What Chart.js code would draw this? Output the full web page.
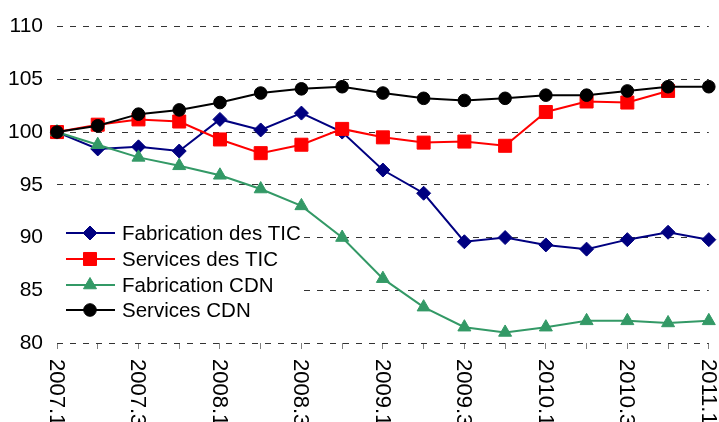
<!DOCTYPE html>
<html>
<head>
<meta charset="utf-8">
<script src="https://cdn.jsdelivr.net/npm/chart.js@4/dist/chart.umd.min.js"></script>
<style>
html,body{margin:0;padding:0;background:#fff;}
#c{display:block;}
</style>
</head>
<body>
<canvas id="c" width="719" height="422"></canvas>
<script>
const quarters = ['2007.1','2007.2','2007.3','2007.4','2008.1','2008.2','2008.3','2008.4','2009.1','2009.2','2009.3','2009.4','2010.1','2010.2','2010.3','2010.4','2011.1'];
const seriesNames = ['Fabrication des TIC','Services des TIC','Fabrication CDN','Services CDN'];
const fabricationTIC = [100, 98.4, 98.6, 98.2, 101.2, 100.2, 101.8, 100.0, 96.4, 94.2, 89.6, 90.0, 89.3, 88.9, 89.8, 90.5, 89.8];
const servicesTIC = [100, 100.7, 101.2, 101.0, 99.3, 98.0, 98.8, 100.3, 99.5, 99.0, 99.1, 98.7, 101.9, 102.9, 102.8, 103.9, null];
const fabricationCDN = [100, 98.8, 97.6, 96.8, 95.9, 94.6, 93.0, 90.0, 86.1, 83.4, 81.5, 81.0, 81.5, 82.1, 82.1, 81.9, 82.1];
const servicesCDN = [100, 100.6, 101.7, 102.1, 102.8, 103.7, 104.1, 104.3, 103.7, 103.2, 103.0, 103.2, 103.5, 103.5, 103.9, 104.3, 104.3];
const yTicks = [80, 85, 90, 95, 100, 105, 110];

const FONT = '"Liberation Sans", Arial, sans-serif';
const styles = [
  {color:'#000080', pointStyle:'rectRot', radius:7},
  {color:'#FF0000', pointStyle:'rect', radius:9.2},
  {color:'#339966', pointStyle:'triangle', radius:7.5},
  {color:'#000000', pointStyle:'circle', radius:6.3}
];
const values = [fabricationTIC, servicesTIC, fabricationCDN, servicesCDN];

const datasets = values.map((v, i) => ({
  label: seriesNames[i],
  data: v,
  borderColor: styles[i].color,
  backgroundColor: styles[i].color,
  pointBackgroundColor: styles[i].color,
  pointBorderColor: styles[i].color,
  pointBorderWidth: 1,
  pointStyle: styles[i].pointStyle,
  pointRadius: styles[i].radius,
  borderWidth: 2,
  tension: 0,
  spanGaps: false,
  clip: false,
  order: 4 - i
}));

const xLabelPlugin = {
  id: 'xLabels',
  afterDraw(chart) {
    const ctx = chart.ctx;
    const xs = chart.scales.x;
    const bottom = chart.chartArea.bottom;
    ctx.save();
    ctx.font = '22px ' + FONT;
    ctx.fillStyle = '#000';
    ctx.textAlign = 'left';
    ctx.textBaseline = 'middle';
    quarters.forEach((q, i) => {
      if (i % 2 !== 0) return;
      const x = xs.getPixelForValue(i);
      ctx.save();
      ctx.translate(x, bottom + 16);
      ctx.rotate(Math.PI / 2);
      ctx.fillText(q, 0, 1);
      ctx.restore();
    });
    ctx.restore();
  }
};

const legendPlugin = {
  id: 'innerLegend',
  afterDraw(chart) {
    const ctx = chart.ctx;
    ctx.save();
    ctx.fillStyle = '#fff';
    ctx.fillRect(57, 221, 247, 102);
    const rows = [233, 259, 285, 310];
    seriesNames.forEach((name, i) => {
      const y = rows[i];
      const s = styles[i];
      ctx.strokeStyle = s.color;
      ctx.lineWidth = 2;
      ctx.beginPath();
      ctx.moveTo(66, y);
      ctx.lineTo(115, y);
      ctx.stroke();
      ctx.fillStyle = s.color;
      ctx.lineWidth = 1;
      Chart.helpers.drawPoint(ctx, {pointStyle: s.pointStyle, radius: s.radius, rotation: 0, borderWidth: 1}, 90, y);
      ctx.fillStyle = '#000';
      ctx.font = '20.5px ' + FONT;
      ctx.textAlign = 'left';
      ctx.textBaseline = 'middle';
      ctx.fillText(name, 122, y + 1);
    });
    ctx.restore();
  }
};

new Chart(document.getElementById('c'), {
  type: 'line',
  data: { labels: quarters, datasets },
  options: {
    responsive: false,
    animation: false,
    events: [],
    layout: { padding: { top: 23, right: 6, left: 0, bottom: 0 } },
    plugins: { legend: { display: false }, tooltip: { enabled: false }, title: { display: false } },
    scales: {
      x: {
        type: 'category',
        offset: false,
        ticks: { display: false, autoSkip: false },
        grid: { display: true, drawOnChartArea: false, drawTicks: true, tickLength: 6, color: '#808080', lineWidth: 1 },
        border: { display: false },
        afterFit(s) { s.height = 79; }
      },
      y: {
        min: 80, max: 110,
        afterBuildTicks(s) { s.ticks = yTicks.map(v => ({ value: v })); },
        ticks: { color: '#000', font: { size: 21, family: FONT }, padding: 14 },
        grid: { color: '#333', lineWidth: 1, drawTicks: false },
        border: { display: false, dash: [6, 7] },
        afterFit(s) { s.width = 57; }
      }
    }
  },
  plugins: [xLabelPlugin, legendPlugin]
});
</script>
</body>
</html>
